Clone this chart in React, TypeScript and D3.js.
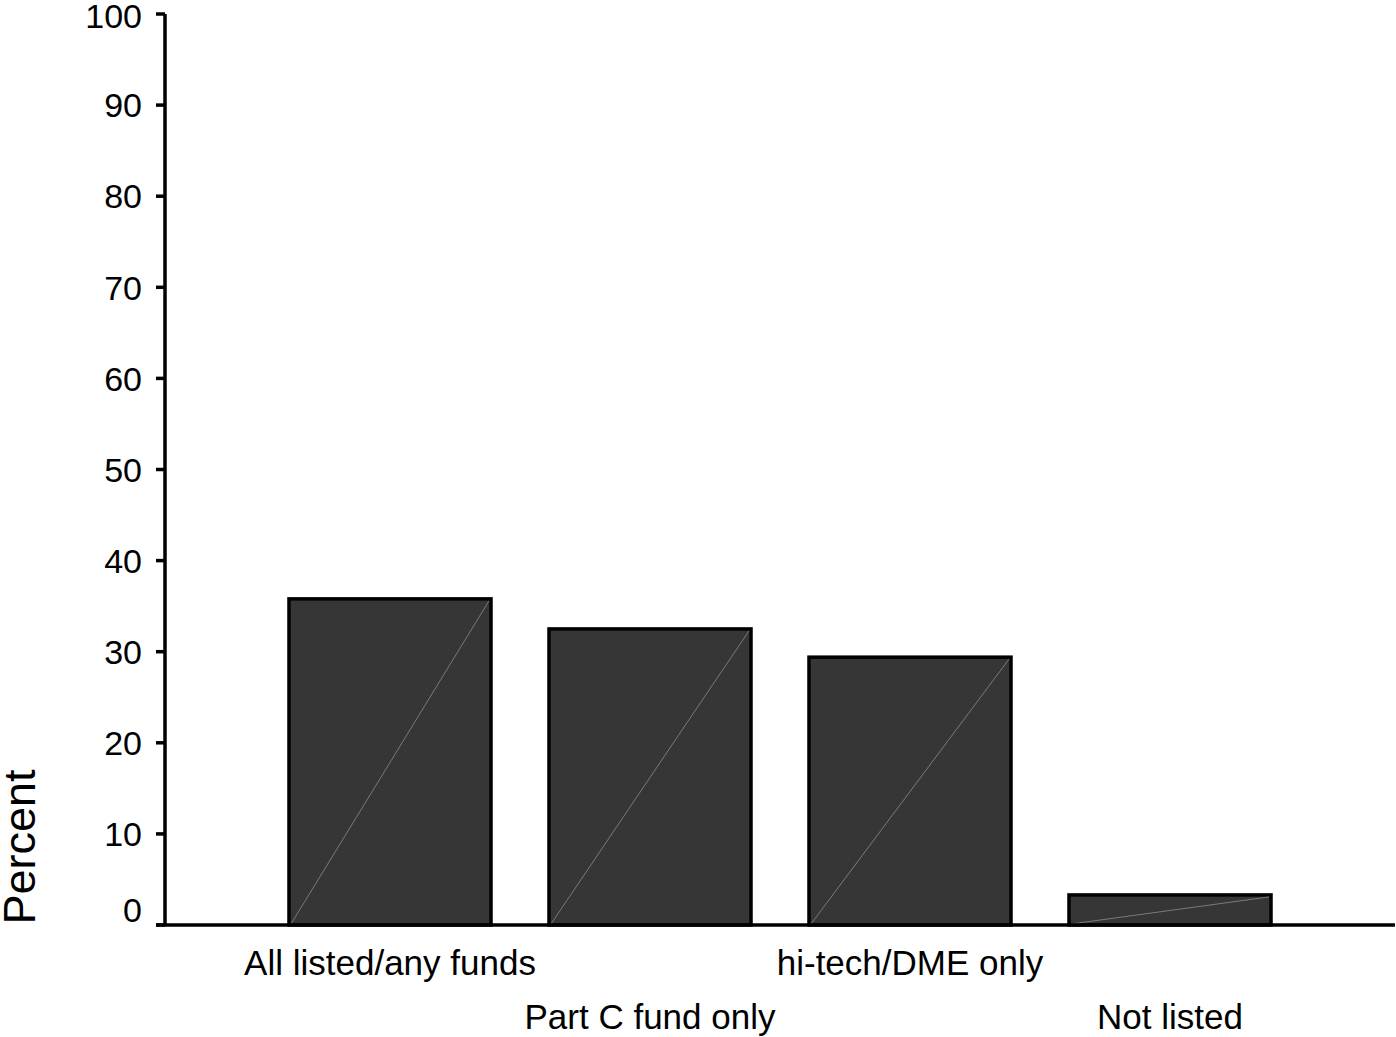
import React from "react";
import * as d3 from "d3";

const categories = ["All listed/any funds", "Part C fund only", "hi-tech/DME only", "Not listed"];
const values = [35.8, 32.5, 29.4, 3.3];
const yTicks = [0, 10, 20, 30, 40, 50, 60, 70, 80, 90, 100];
const yLabel = "Percent";

export default function App() {
  const W = 1396, H = 1037;
  const axisX = 165, axisY = 925;
  const y = d3.scaleLinear().domain([0, 100]).range([925, 14]);
  const x = d3.scaleBand<string>().domain(categories).range([260, 1300]).paddingInner(0.223).paddingOuter(0.1115);
  const font = "Arial, 'Liberation Sans', Helvetica, sans-serif";
  return (
    <svg width={W} height={H} style={{ position: "absolute", left: 0, top: 0, background: "#fff" }} fontFamily={font}>
      <rect x={0} y={0} width={W} height={H} fill="#fff" />
      {categories.map((c, i) => {
        const x0 = x(c)!;
        const bw = x.bandwidth();
        const yt = y(values[i]);
        return (
          <g key={c}>
            <rect x={x0} y={yt} width={bw} height={axisY - yt} fill="#363636" stroke="#000" strokeWidth={3.5} />
            <line x1={x0 + 2} y1={axisY - 1} x2={x0 + bw - 2} y2={yt + 2} stroke="#7a7a7a" strokeWidth={1} />
          </g>
        );
      })}
      <line x1={axisX} y1={y(100)} x2={axisX} y2={axisY} stroke="#000" strokeWidth={3.5} />
      <line x1={156} y1={axisY} x2={1395} y2={axisY} stroke="#000" strokeWidth={3.5} />
      {yTicks.map((t) => (
        <g key={t}>
          <line x1={156} x2={axisX} y1={y(t)} y2={y(t)} stroke="#000" strokeWidth={3.5} />
          <text x={142} y={y(t) + (t === 0 ? -15 : t === 100 ? 2 : 0)} dy="0.36em" textAnchor="end" fontSize={34} fill="#000">
            {t}
          </text>
        </g>
      ))}
      {categories.map((c, i) => (
        <text key={c} x={x(c)! + x.bandwidth() / 2} y={i % 2 === 0 ? 975 : 1029} textAnchor="middle" fontSize={35} fill="#000">
          {c}
        </text>
      ))}
      <text transform={`translate(35,847) rotate(-90)`} textAnchor="middle" fontSize={45} fill="#000">
        {yLabel}
      </text>
    </svg>
  );
}
